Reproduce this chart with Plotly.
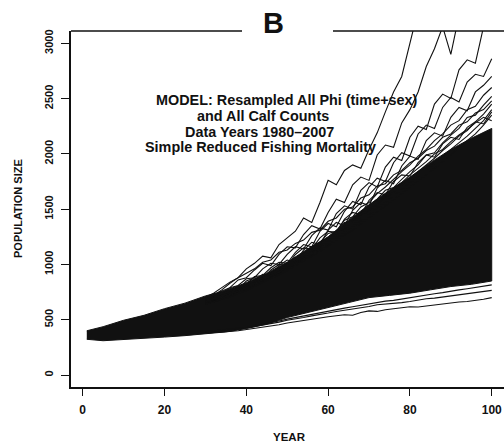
import plotly.graph_objects as go

# ---- data ----
band_years = [1, 5, 10, 15, 20, 25, 30, 35, 40, 45, 50, 55, 60, 65, 70, 75, 80, 85, 90, 95, 100]
band_high = [400, 437, 495, 540, 600, 650, 715, 765, 835, 920, 1020, 1140, 1250, 1400, 1540, 1670, 1790, 1920, 2040, 2140, 2230]
band_low = [323, 310, 318, 330, 343, 356, 372, 390, 420, 460, 520, 565, 610, 655, 700, 720, 740, 770, 800, 820, 850]

line_years = list(range(30, 101, 2))
N = None
upper_lines = {
    "U1": [690, 720, 770, 830, 880, 960, 1010, 1075, 1060, 1180, 1240, 1300, 1420, 1380, 1560, 1760, 1720, 1850, 1900, 1870, 2040, 2190, 2380, 2560, 2700, 3000, 3300, N, N, N, N, N, N, N, N, N],
    "U2": [680, 720, 760, 790, 860, 880, 950, 1010, 990, 1090, 1160, 1150, 1270, 1350, 1320, 1470, 1590, 1560, 1720, 1790, 1760, 1990, 2080, 2060, 2280, 2400, 2560, 2790, 2950, 3150, 2900, 3250, N, N, N, N],
    "U3": [670, 700, 745, 790, 810, 870, 880, 960, 1010, 1000, 1090, 1160, 1140, 1260, 1330, 1310, 1460, 1530, 1500, 1670, 1740, 1700, 1880, 1970, 1940, 2150, 2250, 2220, 2450, 2540, 2500, 2760, 2850, 2820, 3150, N],
    "U4": [660, 690, 730, 760, 800, 820, 890, 900, 970, 1020, 1010, 1110, 1180, 1160, 1300, 1370, 1340, 1480, 1570, 1540, 1700, 1780, 1750, 1920, 2010, 1980, 2180, 2260, 2230, 2420, 2510, 2470, 2650, 2720, 2700, 2860],
    "U5": [650, 680, 720, 740, 790, 810, 860, 910, 900, 990, 1040, 1020, 1130, 1200, 1180, 1310, 1380, 1350, 1490, 1560, 1530, 1690, 1760, 1730, 1890, 1980, 1950, 2120, 2190, 2160, 2330, 2420, 2390, 2560, 2620, 2700],
    "U6": [640, 670, 700, 745, 770, 800, 850, 880, 920, 960, 1010, 1060, 1100, 1160, 1200, 1280, 1300, 1400, 1430, 1520, 1560, 1640, 1700, 1770, 1840, 1900, 1980, 2040, 2120, 2180, 2260, 2300, 2400, 2430, 2530, 2600],
    "U7": [660, 685, 710, 740, 770, 800, 835, 870, 910, 950, 995, 1060, 1070, 1140, 1190, 1245, 1300, 1380, 1395, 1470, 1530, 1590, 1670, 1695, 1770, 1840, 1900, 1990, 2010, 2100, 2170, 2230, 2330, 2350, 2440, 2520],
    "U8": [650, 670, 700, 725, 760, 790, 820, 860, 895, 935, 975, 1020, 1060, 1110, 1160, 1210, 1265, 1320, 1370, 1425, 1490, 1540, 1610, 1650, 1720, 1780, 1840, 1900, 1960, 2030, 2090, 2160, 2210, 2290, 2360, 2450],
    "U9": [645, 665, 690, 720, 745, 780, 810, 850, 880, 925, 960, 1000, 1050, 1090, 1140, 1185, 1240, 1290, 1340, 1395, 1450, 1510, 1560, 1620, 1680, 1740, 1790, 1860, 1910, 1980, 2040, 2100, 2160, 2230, 2300, 2400],
    "U10": [640, 660, 685, 705, 740, 765, 800, 835, 870, 905, 945, 990, 1030, 1075, 1120, 1165, 1215, 1265, 1310, 1370, 1420, 1475, 1530, 1585, 1640, 1700, 1750, 1810, 1870, 1930, 1990, 2060, 2120, 2180, 2260, 2350],
    "D1": [640, 660, 690, 730, 760, 790, 830, 860, 900, 930, 980, 1030, 1070, 1120, 1170, 1230, 1290, 1330, 1400, 1450, 1500, 1570, 1620, 1690, 1740, 1810, 1870, 1930, 2000, 2040, 2110, 2170, 2220, 2280, 2330, 2300],
    "D2": [690, 690, 740, 780, 770, 850, 880, 870, 950, 1000, 990, 1090, 1150, 1140, 1240, 1300, 1290, 1410, 1470, 1450, 1580, 1650, 1630, 1750, 1810, 1800, 1920, 1990, 1970, 2090, 2150, 2130, 2240, 2290, 2270, 2380],
    "D3": [700, 740, 790, 840, 880, 920, 960, 1020, 1040, 1110, 1130, 1190, 1220, 1290, 1310, 1390, 1420, 1500, 1520, 1600, 1630, 1710, 1730, 1810, 1850, 1920, 1960, 2030, 2070, 2150, 2180, 2260, 2290, 2370, 2400, 2480],
}
lower_lines = {
    "L1": [380, 383, 388, 394, 400, 410, 420, 432, 445, 455, 470, 480, 495, 505, 515, 527, 535, 545, 540, 565, 580, 575, 590, 598, 605, 617, 615, 625, 635, 640, 650, 660, 665, 672, 685, 700],
    "L2": [385, 390, 397, 404, 412, 425, 438, 450, 462, 478, 495, 505, 520, 535, 545, 560, 575, 585, 600, 610, 620, 635, 640, 650, 655, 665, 678, 690, 695, 705, 715, 725, 735, 745, 752, 765],
    "L3": [390, 398, 405, 412, 420, 432, 445, 458, 472, 488, 505, 520, 533, 548, 562, 575, 590, 605, 617, 630, 640, 655, 668, 675, 688, 700, 712, 720, 735, 745, 760, 770, 780, 790, 800, 815],
}

x_ticks = [0, 20, 40, 60, 80, 100]
y_ticks = [0, 500, 1000, 1500, 2000, 2500, 3000]
note_lines = ["MODEL: Resampled All Phi (time+sex)", "and All Calf Counts",
              "Data Years 1980\u20132007", "Simple Reduced Fishing Mortality"]

INK = "#111111"
FONT = "Liberation Sans"

fig = go.Figure()
fig.add_trace(go.Scatter(
    x=band_years + band_years[::-1], y=band_high + band_low[::-1],
    fill="toself", fillcolor=INK, line=dict(color=INK, width=1),
    mode="lines", hoverinfo="skip", showlegend=False))
for name, vals in {**upper_lines, **lower_lines}.items():
    fig.add_trace(go.Scatter(x=line_years, y=vals, mode="lines",
                             line=dict(color=INK, width=1.1), showlegend=False,
                             connectgaps=False, name=name))

L, R, T, B = 71, 0, 31, 61
W, H = 504, 448
pw, ph = W - L - R, H - T - B

def px(x):
    return (x - L) / pw

def py(y):
    return (H - B - y) / ph

tickfont = dict(family=FONT, size=12, color=INK, weight="bold")
fig.update_layout(
    width=W, height=H, margin=dict(l=L, r=R, t=T, b=B),
    paper_bgcolor="white", plot_bgcolor="white",
    font=dict(family=FONT, color=INK),
    xaxis=dict(range=[-2.86, 103.0], tickvals=x_ticks, ticks="outside", ticklen=7,
               tickwidth=1.2, tickcolor=INK, showline=True, linewidth=1.5, linecolor=INK,
               showgrid=False, zeroline=False, tickfont=tickfont, ticklabelstandoff=4),
    yaxis=dict(range=[-108.5, 3111], tickvals=y_ticks, ticks="outside", ticklen=8,
               tickwidth=1.2, tickcolor=INK, showline=True, linewidth=1.5, linecolor=INK,
               showgrid=False, zeroline=False, tickangle=-90,
               tickfont=dict(family=FONT, size=11, color=INK, weight="bold"), ticklabelstandoff=4),
    showlegend=False,
)

# top frame line with a gap behind the panel letter
fig.add_shape(type="line", xref="paper", yref="paper", x0=0, x1=px(242), y0=1, y1=1,
              line=dict(color=INK, width=1.5))
fig.add_shape(type="line", xref="paper", yref="paper", x0=px(333), x1=1, y0=1, y1=1,
              line=dict(color=INK, width=1.5))

fig.add_annotation(text="<b>B</b>", xref="paper", yref="paper", x=px(273.5), y=py(23),
                   xanchor="center", yanchor="middle", showarrow=False,
                   font=dict(family=FONT, size=29, color=INK))

centers = [(286.5, 100), (263, 116), (259, 131.5), (260, 147)]
for txt, (cx, cy) in zip(note_lines, centers):
    fig.add_annotation(text="<b>" + txt + "</b>", xref="paper", yref="paper",
                       x=px(cx), y=py(cy), xanchor="center", yanchor="middle",
                       showarrow=False, font=dict(family=FONT, size=14.4, color=INK))

fig.add_annotation(text="<b>YEAR</b>", xref="paper", yref="paper", x=px(289), y=py(437),
                   xanchor="center", yanchor="middle", showarrow=False,
                   font=dict(family=FONT, size=11.5, color=INK))
fig.add_annotation(text="<b>POPULATION SIZE</b>", xref="paper", yref="paper", x=px(18), y=py(209),
                   xanchor="center", yanchor="middle", showarrow=False, textangle=-90,
                   font=dict(family=FONT, size=11, color=INK))

fig.write_html("out.html")
